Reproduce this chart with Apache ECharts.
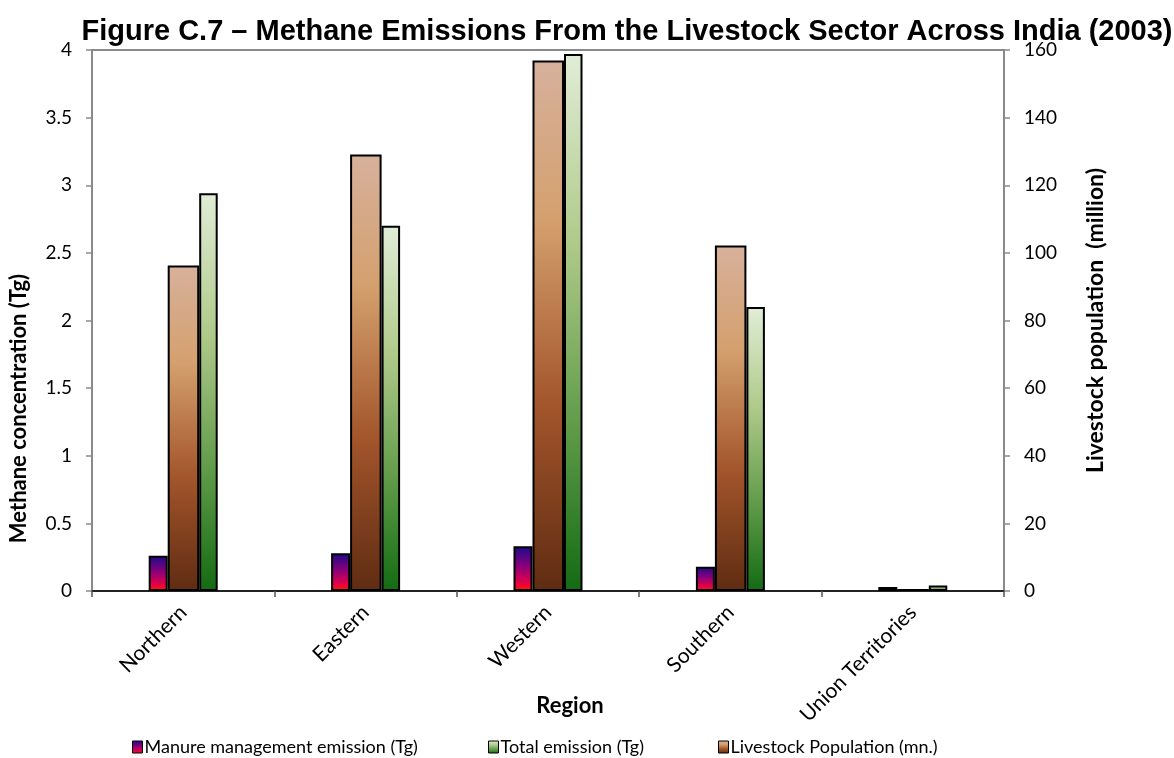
<!DOCTYPE html>
<html>
<head>
<meta charset="utf-8">
<title>Methane Emissions From the Livestock Sector Across India (2003)</title>
<script src="https://cdn.jsdelivr.net/npm/echarts@6/dist/echarts.min.js"></script>
<style>
  html, body { margin: 0; padding: 0; background: #fff; }
  #chart { width: 1174px; height: 758px; }
</style>
</head>
<body>
<div id="chart"></div>
<script>
// regions (categories)
var regions = ['Northern', 'Eastern', 'Western', 'Southern', 'Union Territories'];
// left axis, Tg
var manureEmission = [0.26, 0.28, 0.33, 0.18, 0.03];
var totalEmission = [2.94, 2.70, 3.97, 2.10, 0.04];
// right axis, million
var livestockPop = [96.3, 129.1, 156.9, 102.2, 0.6];

var leftTicks = { min: 0, max: 4, interval: 0.5 };
var rightTicks = { min: 0, max: 160, interval: 20 };

var chart = echarts.init(document.getElementById('chart'));

function vGrad(stops) {
    return new echarts.graphic.LinearGradient(0, 0, 0, 1, stops);
}

var manureColor = vGrad([
    { offset: 0, color: '#1c0a8c' },
    { offset: 0.45, color: '#8a007a' },
    { offset: 0.8, color: '#e0004a' },
    { offset: 0.95, color: '#ff1010' },
    { offset: 1, color: '#ff8000' }
]);
var livestockColor = vGrad([
    { offset: 0, color: '#d7b19c' },
    { offset: 0.3, color: '#d4a06e' },
    { offset: 0.65, color: '#a3552b' },
    { offset: 1, color: '#5f2c12' }
]);
var totalColor = vGrad([
    { offset: 0, color: '#e1edd7' },
    { offset: 0.35, color: '#b0ca8a' },
    { offset: 0.7, color: '#5f9a48' },
    { offset: 1, color: '#136b13' }
]);

var labelFont = 'Lato, "Open Sans", sans-serif';
var barBorder = { borderColor: '#000', borderWidth: 2 };

var option = {
    backgroundColor: '#fff',
    animation: false,
    title: {
        text: 'Figure C.7 \u2013 Methane Emissions From the Livestock Sector Across India (2003)',
        left: 622,
        top: 12,
        textAlign: 'center',
        textStyle: {
            fontFamily: '"Liberation Sans", Arial, sans-serif',
            fontWeight: 'bold',
            fontSize: 29,
            color: '#000'
        }
    },
    grid: {
        left: 91,
        right: 170,
        top: 50,
        bottom: 167,
        show: true,
        borderColor: '#8a8a8a',
        borderWidth: 2,
        backgroundColor: 'transparent'
    },
    legend: [
        {
            data: ['Manure management emission (Tg)'],
            left: 132, top: 738
        },
        {
            data: ['Total emission (Tg)'],
            left: 488, top: 738
        },
        {
            data: ['Livestock Population (mn.)'],
            left: 718, top: 738
        }
    ].map(function (l) {
        l.icon = 'rect';
        l.itemWidth = 10;
        l.itemHeight = 12;
        l.itemGap = 4;
        l.padding = 0;
        l.itemStyle = { borderColor: '#000', borderWidth: 1 };
        l.textStyle = { fontFamily: labelFont, fontSize: 18, color: '#000', padding: [0, 0, 0, -3] };
        return l;
    }),
    xAxis: {
        type: 'category',
        data: regions,
        name: 'Region',
        nameLocation: 'middle',
        nameGap: 104,
        nameMoveOverlap: false,
        nameTextStyle: {
            fontFamily: labelFont, fontWeight: 'bold', fontSize: 22, color: '#000',
            padding: [0, 0, 0, 44]
        },
        axisLine: { lineStyle: { color: '#000', width: 1.5 } },
        axisTick: { show: true, length: 6, lineStyle: { color: '#555', width: 1.5 } },
        axisLabel: {
            rotate: 45,
            interval: 0,
            margin: 18,
            fontFamily: labelFont,
            fontSize: 21,
            color: '#000'
        },
        splitLine: { show: false }
    },
    yAxis: [
        {
            type: 'value',
            min: leftTicks.min,
            max: leftTicks.max,
            interval: leftTicks.interval,
            name: 'Methane concentration (Tg)',
            nameLocation: 'middle',
            nameGap: 62,
            nameTextStyle: {
                fontFamily: labelFont, fontWeight: 'bold', fontSize: 22, color: '#000',
                padding: [0, 176, 0, 0]
            },
            axisLine: { show: true, lineStyle: { color: '#8a8a8a', width: 2 } },
            axisTick: { show: true, length: 6, lineStyle: { color: '#8a8a8a', width: 1.5 } },
            axisLabel: { fontFamily: labelFont, fontSize: 19, color: '#000', margin: 20 },
            splitLine: { show: false }
        },
        {
            type: 'value',
            min: rightTicks.min,
            max: rightTicks.max,
            interval: rightTicks.interval,
            position: 'right',
            name: 'Livestock population  (million)',
            nameLocation: 'middle',
            nameGap: 80,
            nameRotate: 90,
            nameTextStyle: { fontFamily: labelFont, fontWeight: 'bold', fontSize: 23, color: '#000' },
            axisLine: { show: true, lineStyle: { color: '#8a8a8a', width: 2 } },
            axisTick: { show: true, length: 6, lineStyle: { color: '#8a8a8a', width: 1.5 } },
            axisLabel: { fontFamily: labelFont, fontSize: 19, color: '#000', margin: 20 },
            splitLine: { show: false }
        }
    ],
    series: [
        {
            name: 'Manure management emission (Tg)',
            type: 'bar',
            yAxisIndex: 0,
            data: manureEmission,
            barWidth: 19,
            barGap: '0%',
            itemStyle: Object.assign({ color: manureColor }, barBorder)
        },
        {
            name: 'Livestock Population (mn.)',
            type: 'bar',
            yAxisIndex: 1,
            data: livestockPop,
            barWidth: 31.5,
            barGap: '0%',
            itemStyle: Object.assign({ color: livestockColor }, barBorder)
        },
        {
            name: 'Total emission (Tg)',
            type: 'bar',
            yAxisIndex: 0,
            data: totalEmission,
            barWidth: 18.5,
            barGap: '0%',
            itemStyle: Object.assign({ color: totalColor }, barBorder)
        }
    ]
};

chart.setOption(option);
</script>
</body>
</html>
